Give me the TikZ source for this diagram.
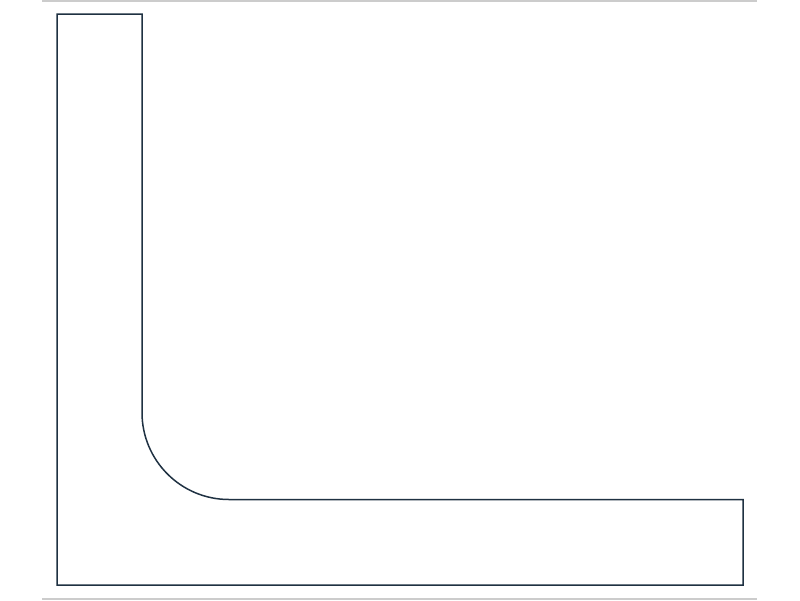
\documentclass[tikz,border=0pt]{standalone}
\begin{document}
\begin{tikzpicture}[x=1pt,y=-1pt,
  outline/.style={draw=shapeblue,line width=1.5pt,line join=miter},
  rule/.style={draw=rulegray,line width=1.6pt}]
\definecolor{shapeblue}{HTML}{1F3142}
\definecolor{rulegray}{HTML}{CCCCCC}
\useasboundingbox (0,0) rectangle (800,600);
\coordinate (t1) at (42,0.8);
\coordinate (t2) at (757,0.8);
\coordinate (b1) at (42,598.8);
\coordinate (b2) at (757,598.8);
\draw[rule] (t1) -- (t2);
\draw[rule] (b1) -- (b2);
\draw[outline] (57,14) -- (142,14) -- (142,412.5)
  arc[start angle=180,end angle=90,radius=87] -- (743,499.5) -- (743,585) -- (57,585) -- cycle;
\end{tikzpicture}
\end{document}
